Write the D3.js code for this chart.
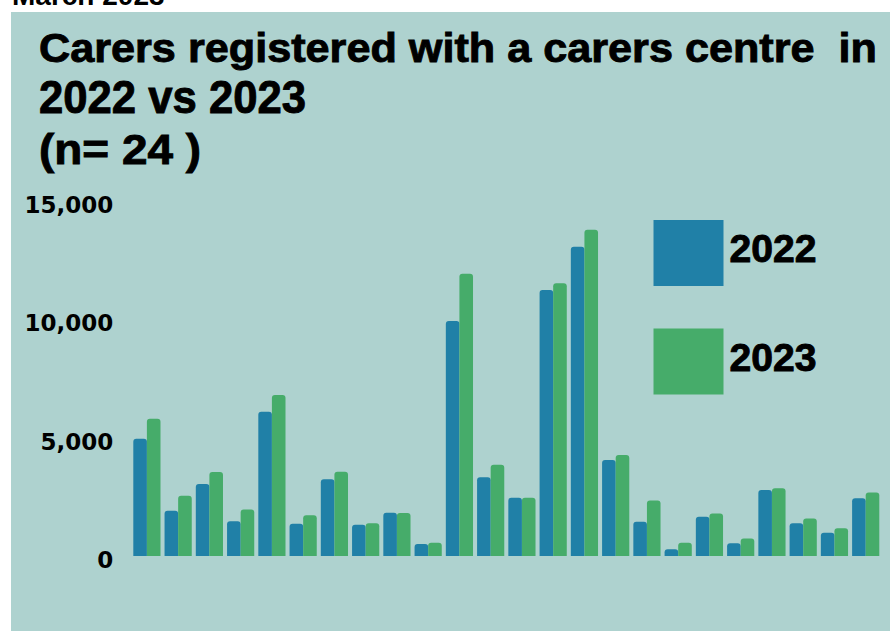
<!DOCTYPE html>
<html>
<head>
<meta charset="utf-8">
<script src="https://cdn.jsdelivr.net/npm/d3@7"></script>
<style>
  body { margin: 0; background: #fff; }
  svg { display: block; }
  text { font-family: "Liberation Sans", Arial, sans-serif; font-weight: bold; fill: #000; white-space: pre; }
  .heavy { stroke: #000; stroke-width: 0.9px; }
</style>
</head>
<body>
<svg id="chart" width="890" height="631"></svg>
<script>
// carers centres (n = 24), registered carers
const centres = d3.range(1, 25).map(i => `Centre ${i}`);
const years = ['2022', '2023'];
const values2022 = [4950, 1915, 3040, 1465, 6100, 1365, 3240, 1325, 1830, 505, 9930, 3325, 2465, 11240, 13070, 4060, 1450, 280, 1660, 535, 2790, 1380, 985, 2440];
const values2023 = [5800, 2550, 3550, 1970, 6800, 1720, 3560, 1380, 1820, 560, 11930, 3860, 2465, 11520, 13780, 4270, 2340, 560, 1800, 735, 2860, 1580, 1170, 2680];
const yTicks = [0, 5000, 10000, 15000];
const titleLines = ['Carers registered with a carers centre  in', '2022 vs 2023', '(n= 24 )'];

const colors = { '2022': '#2080a7', '2023': '#46ac6a' };

const svg = d3.select('#chart');

// date strip, cut off at the top like the source
svg.append('text')
  .attr('x', 12)
  .attr('y', 5)
  .style('font-size', '28px')
  .text('March 2023');

svg.append('rect')
  .attr('x', 11)
  .attr('y', 12)
  .attr('width', 879)
  .attr('height', 619)
  .attr('fill', '#aed2cf');

// title, each line stretched to the width it has in the source
const titleSpec = [
  { y: 62, size: 41, width: 838 },
  { y: 113, size: 46, width: 267 },
  { y: 164, size: 43, width: 162 },
];
svg.append('g')
  .selectAll('text')
  .data(titleLines)
  .join('text')
  .attr('class', 'heavy')
  .attr('x', 39)
  .attr('y', (d, i) => titleSpec[i].y)
  .attr('textLength', (d, i) => titleSpec[i].width)
  .attr('lengthAdjust', 'spacingAndGlyphs')
  .style('font-size', (d, i) => `${titleSpec[i].size}px`)
  .text(d => d);

const x = d3.scaleBand()
  .domain(centres)
  .range([133.3, 879.3])
  .paddingInner(0.13)
  .paddingOuter(0);

const xYear = d3.scaleBand()
  .domain(years)
  .range([0, x.bandwidth()]);

const y = d3.scaleLinear()
  .domain([0, 15000])
  .range([556, 201]);

const yAxis = svg.append('g')
  .attr('transform', `translate(${x.range()[0]},0)`)
  .call(d3.axisLeft(y).tickValues(yTicks).tickSize(0).tickPadding(20).tickFormat(d3.format(',')));
yAxis.select('.domain').remove();
yAxis.selectAll('text')
  .attr('dy', '0.32em')
  .attr('y', 4)
  .style('font-family', '"DejaVu Sans", sans-serif')
  .style('font-weight', 'bold')
  .style('font-size', '23px')
  .attr('fill', '#000');

function topRounded(x0, y0, w, h, r) {
  r = Math.min(r, h, w / 2);
  return `M${x0},${y0 + h}V${y0 + r}Q${x0},${y0} ${x0 + r},${y0}H${x0 + w - r}Q${x0 + w},${y0} ${x0 + w},${y0 + r}V${y0 + h}Z`;
}

const rows = centres.map((c, i) => ({ centre: c, '2022': values2022[i], '2023': values2023[i] }));

svg.append('g')
  .selectAll('g')
  .data(rows)
  .join('g')
  .attr('transform', d => `translate(${x(d.centre)},0)`)
  .selectAll('path')
  .data(d => years.map(k => ({ key: k, value: d[k] })))
  .join('path')
  .attr('fill', d => colors[d.key])
  .attr('d', d => topRounded(xYear(d.key), y(d.value), xYear.bandwidth(), y(0) - y(d.value), 3));

// legend
const legend = svg.append('g')
  .selectAll('g')
  .data(years)
  .join('g')
  .attr('transform', (d, i) => `translate(653.5,${220 + i * 108.5})`);
legend.append('rect')
  .attr('width', 70)
  .attr('height', 66)
  .attr('fill', d => colors[d]);
legend.append('text')
  .attr('class', 'heavy')
  .attr('x', 76)
  .attr('y', 42)
  .attr('textLength', 87)
  .attr('lengthAdjust', 'spacingAndGlyphs')
  .style('font-size', '38px')
  .text(d => d);
</script>
</body>
</html>
